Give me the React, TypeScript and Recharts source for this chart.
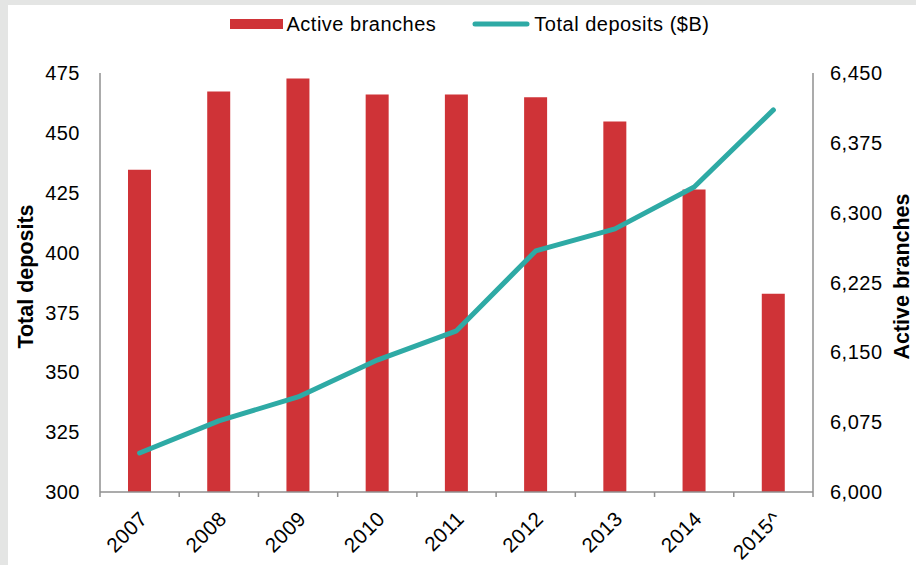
import { ComposedChart, Bar, Line, XAxis, YAxis, Legend, Label } from 'recharts';

// values
const years = ['2007', '2008', '2009', '2010', '2011', '2012', '2013', '2014', '2015^'];
const activeBranches = [6346, 6430, 6444, 6427, 6427, 6424, 6398, 6325, 6213];
const totalDeposits = [316.3, 329.7, 339.7, 355.1, 367.3, 400.7, 409.9, 427.4, 459.6];
const depositTicks = [300, 325, 350, 375, 400, 425, 450, 475];
const branchTicks = [6000, 6075, 6150, 6225, 6300, 6375, 6450];

const data = years.map((year, i) => ({
  year,
  branches: activeBranches[i],
  deposits: totalDeposits[i],
}));

const FONT = '"Liberation Sans", Arial, sans-serif';
const AXIS_GREY = '#8f8f8f';
const RED = '#cf3337';
const TEAL = '#2eaaa5';

const W = 908;
const H = 560;
const MARGIN = { top: 68, right: 0, bottom: 13, left: 0 };
const LEFT_AXIS_W = 92;
const RIGHT_AXIS_W = 103;
const PLOT_W = W - LEFT_AXIS_W - RIGHT_AXIS_W;
const BAND = PLOT_W / years.length;

const YearTick = (props: any) => {
  const { x, y, payload, index } = props;
  const ax = x + 9;
  const ay = y + 28;
  return (
    <g>
      <line x1={x - BAND / 2} y1={y} x2={x - BAND / 2} y2={y + 5} stroke={AXIS_GREY} strokeWidth={1.5} />
      {index === years.length - 1 && (
        <line x1={x + BAND / 2} y1={y} x2={x + BAND / 2} y2={y + 5} stroke={AXIS_GREY} strokeWidth={1.5} />
      )}
      <text
        x={ax}
        y={ay}
        textAnchor="end"
        transform={`rotate(-45 ${ax} ${ay})`}
        fontFamily={FONT}
        fontSize={20.5}
        letterSpacing={0.5}
        fill="#000"
      >
        {payload.value}
      </text>
    </g>
  );
};

const axisTitle = (text: string, baselineOffset: number) => (props: any) => {
  const vb = props.viewBox || {};
  const tx = vb.x + baselineOffset;
  const ty = vb.y + vb.height / 2 - 6;
  return (
    <text
      x={tx}
      y={ty}
      textAnchor="middle"
      transform={`rotate(-90 ${tx} ${ty})`}
      fontFamily={FONT}
      fontSize={21.5}
      fontWeight="bold"
      fill="#000"
    >
      {text}
    </text>
  );
};

const renderLegend = (props: any) => {
  const { payload } = props;
  return (
    <div
      style={{
        display: 'flex',
        justifyContent: 'center',
        alignItems: 'center',
        height: 38,
        paddingLeft: 15,
        fontFamily: FONT,
        fontSize: 20,
        color: '#000',
      }}
    >
      {payload.map((entry: any, i: number) => (
        <div key={i} style={{ display: 'flex', alignItems: 'center', marginLeft: i ? 36 : 0 }}>
          {entry.dataKey === 'deposits' ? (
            <svg width={58} height={10}>
              <line x1={3} y1={5} x2={55} y2={5} stroke={entry.color} strokeWidth={5} strokeLinecap="round" />
            </svg>
          ) : (
            <div style={{ width: 53, height: 10, background: entry.color }} />
          )}
          <span style={{ marginLeft: 4, letterSpacing: 0.5, whiteSpace: 'nowrap' }}>{entry.value}</span>
        </div>
      ))}
    </div>
  );
};

export default function App() {
  return (
    <div style={{ width: 916, height: 565, background: '#e4e5e4', position: 'relative', overflow: 'hidden' }}>
      <style>{'body{margin:0}'}</style>
      <div style={{ position: 'absolute', left: 8, top: 5, width: W, height: H, background: '#fff' }}>
        <ComposedChart width={W} height={H} data={data} margin={MARGIN} barCategoryGap={0}>
          <XAxis
            dataKey="year"
            interval={0}
            height={60}
            tickLine={false}
            tickSize={0}
            tickMargin={0}
            axisLine={{ stroke: AXIS_GREY, strokeWidth: 1.5 }}
            tick={YearTick}
          />
          <YAxis
            yAxisId="left"
            orientation="left"
            width={LEFT_AXIS_W}
            domain={[300, 475]}
            ticks={depositTicks}
            interval={0}
            tickLine={false}
            tickSize={0}
            tickMargin={20}
            axisLine={{ stroke: AXIS_GREY, strokeWidth: 1.5 }}
            tick={{ fontFamily: FONT, fontSize: 20, fill: '#000', letterSpacing: 0.5 }}
          >
            <Label content={axisTitle('Total deposits', 25)} />
          </YAxis>
          <YAxis
            yAxisId="right"
            orientation="right"
            width={RIGHT_AXIS_W}
            domain={[6000, 6450]}
            ticks={branchTicks}
            interval={0}
            tickLine={false}
            tickSize={0}
            tickMargin={17}
            tickFormatter={(v: number) => v.toLocaleString('en-US')}
            axisLine={{ stroke: AXIS_GREY, strokeWidth: 1.5 }}
            tick={{ fontFamily: FONT, fontSize: 20, fill: '#000', letterSpacing: 0.5 }}
          >
            <Label content={axisTitle('Active branches', 96)} />
          </YAxis>
          <Legend
            layout="horizontal"
            verticalAlign="middle"
            align="center"
            wrapperStyle={{ top: 0, left: 0, width: W, height: 38 }}
            content={renderLegend}
          />
          <Bar
            yAxisId="right"
            dataKey="branches"
            name="Active branches"
            fill={RED}
            barSize={23}
            isAnimationActive={false}
          />
          <Line
            yAxisId="left"
            dataKey="deposits"
            name="Total deposits ($B)"
            type="linear"
            stroke={TEAL}
            strokeWidth={5}
            strokeLinecap="round"
            strokeLinejoin="round"
            dot={false}
            activeDot={false}
            isAnimationActive={false}
          />
        </ComposedChart>
      </div>
    </div>
  );
}
